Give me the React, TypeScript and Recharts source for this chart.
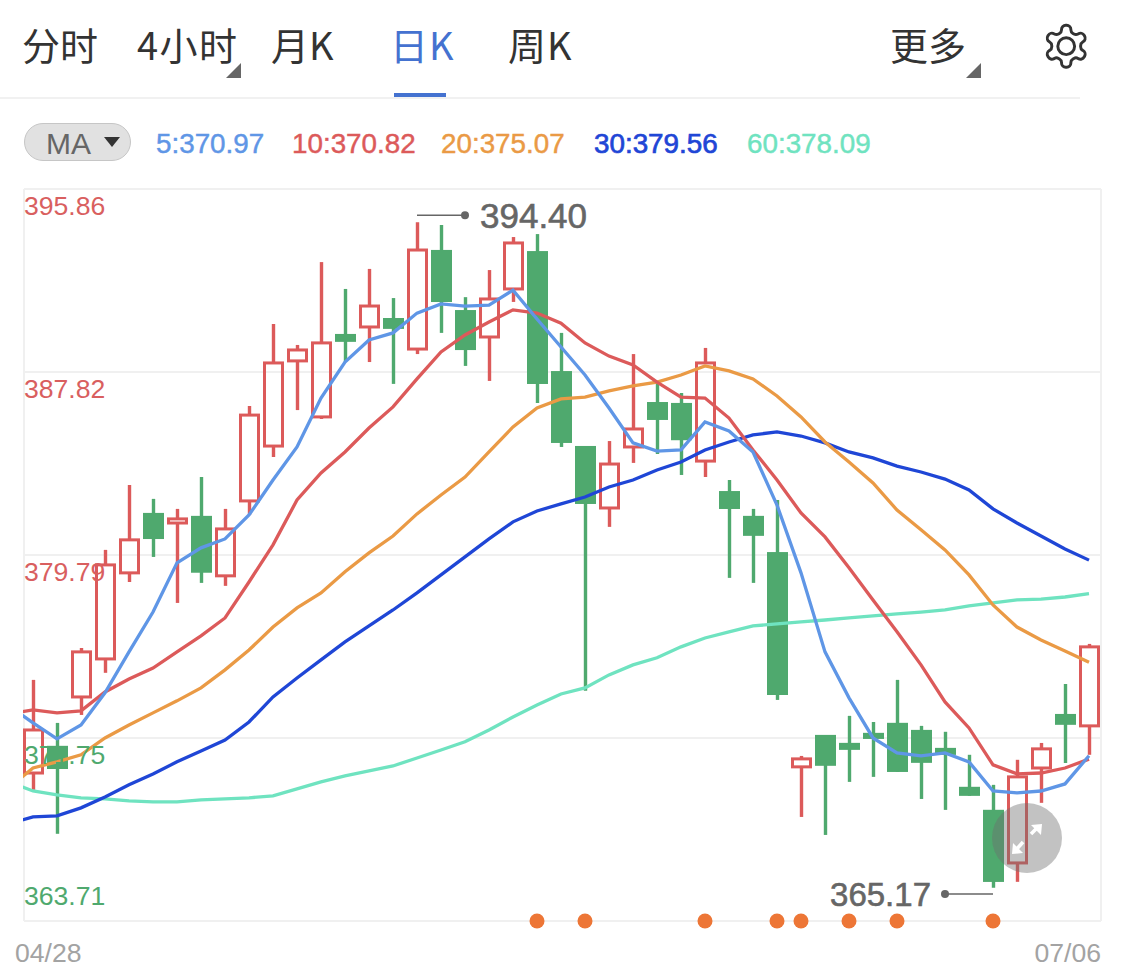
import { Bar, CartesianGrid, ComposedChart, Line, ReferenceDot, ReferenceLine, XAxis, YAxis } from "recharts";

// first slot is the session before the visible window, only its MA values are known
const opens = [null, 370.21, 371.36, 373.55, 375.22, 379.0, 381.59, 381.19, 381.46, 378.87, 382.16, 384.57, 388.31, 385.85, 389.45, 389.8, 390.15, 388.83, 393.14, 390.5, 389.36, 391.47, 393.09, 387.82, 384.53, 381.85, 384.53, 386.46, 386.42, 383.91, 382.55, 381.46, 379.87, 370.48, 371.84, 371.49, 371.93, 372.37, 372.06, 371.27, 369.56, 368.55, 366.26, 370.43, 372.76, 372.28];
const closes = [null, 372.1, 370.43, 375.53, 379.35, 380.45, 380.53, 381.37, 379.05, 380.93, 385.93, 388.22, 388.79, 389.1, 389.19, 390.72, 389.76, 393.18, 390.94, 388.83, 391.03, 393.49, 387.34, 384.75, 382.07, 383.78, 385.32, 385.76, 384.87, 388.22, 381.85, 380.67, 373.68, 370.83, 370.57, 371.27, 371.75, 370.3, 370.7, 371.05, 369.25, 365.47, 370.04, 371.27, 372.37, 375.75];
const highs = [null, 374.3, 372.41, 375.7, 380.01, 382.86, 382.25, 381.81, 383.21, 381.81, 386.33, 389.93, 389.01, 392.65, 391.47, 392.35, 391.07, 394.4, 394.28, 391.11, 392.3, 393.75, 393.88, 389.54, 384.53, 384.79, 388.61, 387.34, 386.9, 388.88, 383.08, 381.81, 382.2, 370.96, 371.84, 372.72, 372.45, 374.3, 372.28, 372.02, 371.01, 369.69, 370.79, 371.53, 374.12, 375.88];
const lows = [null, 369.47, 367.54, 372.76, 374.61, 378.6, 379.7, 377.68, 378.56, 378.43, 381.54, 384.09, 386.15, 385.76, 388.26, 388.26, 387.3, 388.61, 389.54, 388.09, 387.43, 390.9, 386.46, 384.53, 373.82, 381.02, 383.83, 384.22, 383.3, 383.21, 378.78, 378.56, 373.42, 368.28, 367.49, 369.82, 370.04, 370.26, 369.07, 368.59, 369.21, 365.17, 365.43, 368.9, 370.65, 371.01];

const ma5 = [373.16, 372.41, 371.71, 372.32, 373.73, 375.53, 377.28, 379.44, 380.1, 380.49, 381.54, 383.08, 384.53, 386.68, 388.26, 389.23, 389.54, 390.41, 390.81, 390.72, 390.76, 391.42, 390.15, 388.92, 387.69, 386.24, 384.71, 384.35, 384.4, 385.63, 385.23, 384.31, 381.98, 379.0, 375.53, 373.51, 371.75, 371.09, 370.96, 371.09, 370.7, 369.42, 369.34, 369.42, 369.73, 370.97];
const ma10 = [372.81, 372.98, 372.85, 372.94, 373.77, 374.34, 374.82, 375.53, 376.23, 377.02, 378.6, 380.23, 382.2, 383.39, 384.31, 385.36, 386.29, 387.52, 388.7, 389.45, 390.02, 390.55, 390.41, 389.97, 389.1, 388.52, 388.13, 387.38, 386.72, 386.68, 385.8, 384.4, 383.08, 381.63, 380.58, 379.22, 377.81, 376.41, 374.96, 373.33, 372.19, 370.57, 370.17, 370.21, 370.43, 370.82];
const ma20 = [369.56, 370.43, 370.7, 371.01, 371.75, 372.32, 372.85, 373.38, 373.95, 374.74, 375.61, 376.62, 377.46, 378.12, 379.05, 379.88, 380.62, 381.59, 382.42, 383.21, 384.31, 385.41, 386.24, 386.64, 386.72, 386.99, 387.21, 387.38, 387.69, 388.09, 387.87, 387.52, 386.77, 385.85, 384.75, 383.87, 382.95, 381.76, 380.89, 380.01, 378.91, 377.59, 376.62, 376.05, 375.57, 375.07];
const ma30 = [367.98, 368.28, 368.33, 368.68, 369.16, 369.69, 370.17, 370.7, 371.18, 371.66, 372.45, 373.55, 374.38, 375.18, 375.97, 376.67, 377.37, 378.12, 378.91, 379.7, 380.49, 381.24, 381.72, 382.03, 382.33, 382.77, 383.08, 383.52, 383.87, 384.4, 384.75, 385.06, 385.19, 385.01, 384.71, 384.31, 384.05, 383.69, 383.43, 383.12, 382.64, 381.81, 381.19, 380.62, 380.05, 379.56];
const ma60 = [369.82, 369.42, 369.25, 369.12, 369.07, 368.99, 368.94, 368.94, 369.03, 369.07, 369.12, 369.21, 369.51, 369.82, 370.08, 370.3, 370.52, 370.87, 371.22, 371.58, 372.1, 372.67, 373.2, 373.68, 373.95, 374.52, 374.96, 375.27, 375.75, 376.14, 376.41, 376.67, 376.76, 376.85, 376.93, 377.02, 377.11, 377.2, 377.28, 377.37, 377.55, 377.68, 377.81, 377.85, 377.94, 378.09];

const signalSlots = [22, 24, 29, 32, 33, 35, 37, 41];
const yTicks = [395.86, 387.82, 379.79, 371.75, 363.71];
const xLabels: Record<number, string> = { 1: "04/28", 45: "07/06" };
const tabs = ["分时", "4小时", "月K", "日K", "周K", "更多"];
const tabLeft = [22, 137, 271, 390, 508, 890];
const tabSpacing = [0, 1.5, 0, 1, 1, 0];
const legendNames = ["5:370.97", "10:370.82", "20:375.07", "30:379.56", "60:378.09"];
const legendLeft = [156, 292, 441, 594, 747];

const RED = "#dc5a5a";
const GREEN = "#4fa96e";
const maColors = ["#5f96e6", RED, "#ea9a45", "#1f46d6", "#6fe3c0"];

const rows = opens.map((open, i) => ({
  slot: i,
  open,
  close: closes[i],
  high: highs[i],
  low: lows[i],
  ma5: ma5[i],
  ma10: ma10[i],
  ma20: ma20[i],
  ma30: ma30[i],
  ma60: ma60[i],
  signal: signalSlots.includes(i) ? yTicks[4] : null,
}));

function Candle(props: any) {
  const { x, y, width, height, payload } = props;
  if (payload.open == null || !height) return null;
  const { open, close, high, low } = payload;
  const perUnit = height / (high - low);
  const top = y + (high - Math.max(open, close)) * perUnit;
  const bottom = y + (high - Math.min(open, close)) * perUnit;
  const mid = x + width / 2;
  const up = close >= open;
  const color = up ? RED : GREEN;
  return (
    <g>
      <line x1={mid} x2={mid} y1={y} y2={top} stroke={color} strokeWidth={3.4} />
      <line x1={mid} x2={mid} y1={bottom} y2={y + height} stroke={color} strokeWidth={3.4} />
      {up ? (
        <rect x={x + 1.5} y={top} width={width - 3} height={bottom - top} fill="none" stroke={color} strokeWidth={3} />
      ) : (
        <rect x={x} y={top - 1} width={width} height={bottom - top + 2} fill={color} />
      )}
    </g>
  );
}

function YTick({ y, payload }: any) {
  const v = payload.value;
  const low = v === yTicks[4];
  return (
    <text x={24} y={y + (low ? -25 : 17)} dominantBaseline="central" textAnchor="start" fontSize={26.6} fill={v < 375 ? GREEN : "#d95f5f"}>
      {v.toFixed(2)}
    </text>
  );
}

function XTick({ x, payload }: any) {
  const first = payload.value === 1;
  return (
    <text x={first ? x - 18 : x + 12} y={953} dominantBaseline="central" textAnchor={first ? "start" : "end"} fontSize={26.6} fill="#a3a3a3">
      {xLabels[payload.value]}
    </text>
  );
}

function Header() {
  return (
    <>
      {tabs.map((t, i) => (
        <div key={t} style={{ position: "absolute", left: tabLeft[i], top: 16, lineHeight: "56px", fontSize: 38, letterSpacing: tabSpacing[i], fontFamily: '"Noto Sans CJK SC"', color: i === 3 ? "#4472d0" : "#333", whiteSpace: "nowrap" }}>
          {t}
        </div>
      ))}
      <svg width={1125} height={180} style={{ position: "absolute", left: 0, top: 0 }}>
        <polygon points="241,63 241,78 226,78" fill="#666" />
        <polygon points="981,63 981,78 966,78" fill="#666" />
        <rect x={394} y={93} width={52} height={4} fill="#4472d0" />
        <rect x={0} y={97} width={1080} height={2} fill="#f1f1f1" />
        <rect x={24.5} y={123.5} width={106} height={37} rx={18.5} fill="#e1e1e1" stroke="#c6c6c6" />
        <polygon points="104,137 120,137 112,147" fill="#333" />
        <g transform="translate(1041 21) scale(2.1)" fill="none" stroke="#333" strokeWidth={1.4}>
          <path d="M12.22 2h-.44a2 2 0 0 0-2 2v.18a2 2 0 0 1-1 1.73l-.43.25a2 2 0 0 1-2 0l-.15-.08a2 2 0 0 0-2.73.73l-.22.38a2 2 0 0 0 .73 2.73l.15.1a2 2 0 0 1 1 1.72v.51a2 2 0 0 1-1 1.74l-.15.09a2 2 0 0 0-.73 2.73l.22.38a2 2 0 0 0 2.73.73l.15-.08a2 2 0 0 1 2 0l.43.25a2 2 0 0 1 1 1.73V20a2 2 0 0 0 2 2h.44a2 2 0 0 0 2-2v-.18a2 2 0 0 1 1-1.73l.43-.25a2 2 0 0 1 2 0l.15.08a2 2 0 0 0 2.73-.73l.22-.39a2 2 0 0 0-.73-2.73l-.15-.08a2 2 0 0 1-1-1.74v-.5a2 2 0 0 1 1-1.74l.15-.09a2 2 0 0 0 .73-2.73l-.22-.38a2 2 0 0 0-2.73-.73l-.15.08a2 2 0 0 1-2 0l-.43-.25a2 2 0 0 1-1-1.73V4a2 2 0 0 0-2-2z" />
          <circle cx={12} cy={12} r={4} />
        </g>
      </svg>
      <div style={{ position: "absolute", left: 46, top: 124, lineHeight: "40px", fontSize: 30, color: "#666" }}>MA</div>
      {legendNames.map((t, i) => (
        <div key={t} style={{ position: "absolute", left: legendLeft[i], top: 124, lineHeight: "40px", fontSize: 27.8, color: maColors[i], WebkitTextStroke: `${i === 3 ? 0.7 : 0.45}px ${maColors[i]}`, whiteSpace: "nowrap" }}>
          {t}
        </div>
      ))}
    </>
  );
}

export default function App() {
  return (
    <div style={{ position: "absolute", left: 0, top: 0, width: 1125, height: 980, background: "#fff", fontFamily: '"Liberation Sans"', overflow: "hidden" }}>
      <Header />
      <ComposedChart width={1125} height={980} data={rows} margin={{ top: 189, right: 24, bottom: 0, left: 24 }} style={{ position: "absolute", left: 0, top: 0 }}>
        <CartesianGrid stroke="#f0f0f0" strokeWidth={2} verticalPoints={[24, 1101]} />
        <XAxis dataKey="slot" height={59} padding={{ left: -27, right: 0 }} allowDataOverflow axisLine={false} tickLine={false} ticks={[1, 45]} interval={0} tick={<XTick />} />
        <YAxis orientation="left" mirror width={1} domain={[363.71, 395.86]} ticks={yTicks} interval={0} axisLine={false} tickLine={false} tick={<YTick />} />
        <Line dataKey="ma60" stroke={maColors[4]} strokeWidth={3.3} dot={false} isAnimationActive={false} />
        <Line dataKey="ma30" stroke={maColors[3]} strokeWidth={3.3} dot={false} isAnimationActive={false} />
        <Line dataKey="ma20" stroke={maColors[2]} strokeWidth={3.3} dot={false} isAnimationActive={false} />
        <Line dataKey="ma10" stroke={maColors[1]} strokeWidth={3.3} dot={false} isAnimationActive={false} />
        <Line dataKey="ma5" stroke={maColors[0]} strokeWidth={3.3} dot={false} isAnimationActive={false} />
        <Bar dataKey={(d: any) => (d.open == null ? null : [d.low, d.high])} barSize={21} shape={<Candle />} isAnimationActive={false} />
        <Line dataKey="signal" stroke="none" dot={{ r: 7.5, fill: "#ed7636", stroke: "none" }} connectNulls={false} isAnimationActive={false} />
        <ReferenceLine segment={[{ x: 17, y: 394.71 }, { x: 19, y: 394.71 }]} stroke="#666" strokeWidth={1.5} />
        <ReferenceDot x={19} y={394.71} r={4} fill="#666" stroke="none" label={{ value: "394.40", position: "right", offset: 11, fontSize: 35, fill: "#666", stroke: "#666", strokeWidth: 0.6 }} />
        <ReferenceLine segment={[{ x: 39, y: 364.9 }, { x: 41, y: 364.9 }]} stroke="#666" strokeWidth={1.5} />
        <ReferenceDot x={39} y={364.9} r={4} fill="#666" stroke="none" label={{ value: "365.17", position: "left", offset: 10, fontSize: 33, fill: "#666", stroke: "#666", strokeWidth: 0.6 }} />
      </ComposedChart>
      <svg width={1125} height={980} style={{ position: "absolute", left: 0, top: 0, pointerEvents: "none" }}>
        {/* MA lines run in from the hidden session, the plot cuts them off at its left edge */}
        <rect x={0} y={180} width={23} height={745} fill="#fff" />
        <circle cx={1027} cy={838} r={35} fill="#6e6e6e" fillOpacity={0.42} />
        <g stroke="#fff" strokeWidth={3.5} fill="#fff">
          <line x1={1031} y1={834} x2={1039} y2={826} />
          <polygon points="1042,824 1031,825 1041,835" stroke="none" />
          <line x1={1023} y1={842} x2={1015} y2={851} />
          <polygon points="1012,854 1023,853 1013,843" stroke="none" />
        </g>
      </svg>
    </div>
  );
}
